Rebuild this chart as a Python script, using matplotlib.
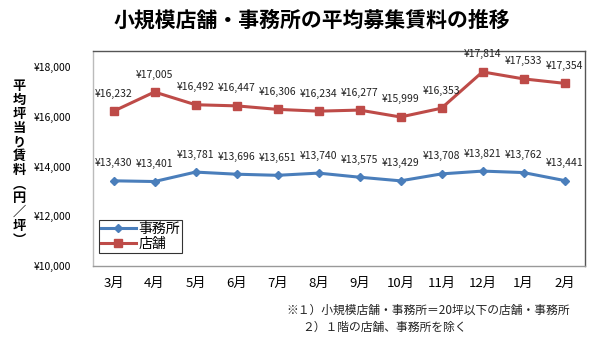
import matplotlib
matplotlib.use("Agg")
import matplotlib.pyplot as plt

plt.rcParams['font.family'] = ['Noto Sans CJK JP', 'DejaVu Sans']

months = ["3月", "4月", "5月", "6月", "7月", "8月", "9月", "10月", "11月", "12月", "1月", "2月"]
office = [13430, 13401, 13781, 13696, 13651, 13740, 13575, 13429, 13708, 13821, 13762, 13441]
store = [16232, 17005, 16492, 16447, 16306, 16234, 16277, 15999, 16353, 17814, 17533, 17354]
yticks = [10000, 12000, 14000, 16000, 18000]

blue = "#4A7EBB"
red = "#BE4B48"

fig = plt.figure(figsize=(6, 3.4), dpi=100)
ax = fig.add_axes([0.155, 0.2176, 0.82, 0.632])

x = list(range(len(months)))
ax.plot(x, office, color=blue, lw=2.2, marker="D", ms=4.5, label="事務所")
ax.plot(x, store, color=red, lw=2.2, marker="s", ms=6, label="店舗")

for xi, v in zip(x, office):
    ax.annotate(f"¥{v:,}", (xi, v), xytext=(0, 9), textcoords="offset points",
                ha="center", va="bottom", fontsize=7.5, color="#222222")
for xi, v in zip(x, store):
    ax.annotate(f"¥{v:,}", (xi, v), xytext=(0, 9), textcoords="offset points",
                ha="center", va="bottom", fontsize=7.5, color="#222222")

ax.set_xlim(-0.5, len(months) - 0.5)
ax.set_ylim(10000, 18650)
ax.set_xticks(x)
ax.set_xticklabels(months, fontsize=9.5)
ax.set_yticks(yticks)
ax.set_yticklabels([f"¥{t:,}" for t in yticks], fontsize=7.5)
ax.tick_params(axis="both", length=0)
ax.tick_params(axis="y", pad=16)
ax.tick_params(axis="x", pad=8)

for side, sp in ax.spines.items():
    sp.set_linewidth(1.0)
ax.spines["left"].set_color("#bbbbbb")
ax.spines["bottom"].set_color("#999999")
ax.spines["top"].set_color("#555555")
ax.spines["right"].set_color("#555555")

leg = ax.legend(loc="lower left", bbox_to_anchor=(0.012, 0.06), fontsize=10,
                frameon=True, fancybox=False, edgecolor="black",
                handlelength=2.5, borderpad=0.15, labelspacing=0.1,
                handletextpad=0.2, borderaxespad=0)
leg.get_frame().set_linewidth(0.8)

fig.text(0.52, 0.94, "小規模店舗・事務所の平均募集賃料の推移", ha="center", va="center",
         fontsize=15, fontweight="bold")

ylabel = "平均坪当り賃料︵円／坪︶"
fig.text(0.032, 0.52, "\n".join(ylabel), ha="center", va="center",
         fontsize=9.5, fontweight="bold", linespacing=1.0)

fig.text(0.478, 0.088, "※１）小規模店舗・事務所＝20坪以下の店舗・事務所", ha="left", va="center",
         fontsize=8.5, color="#222222")
fig.text(0.503, 0.038, "２）１階の店舗、事務所を除く", ha="left", va="center",
         fontsize=8.5, color="#222222")

fig.savefig("out.png", dpi=100)
